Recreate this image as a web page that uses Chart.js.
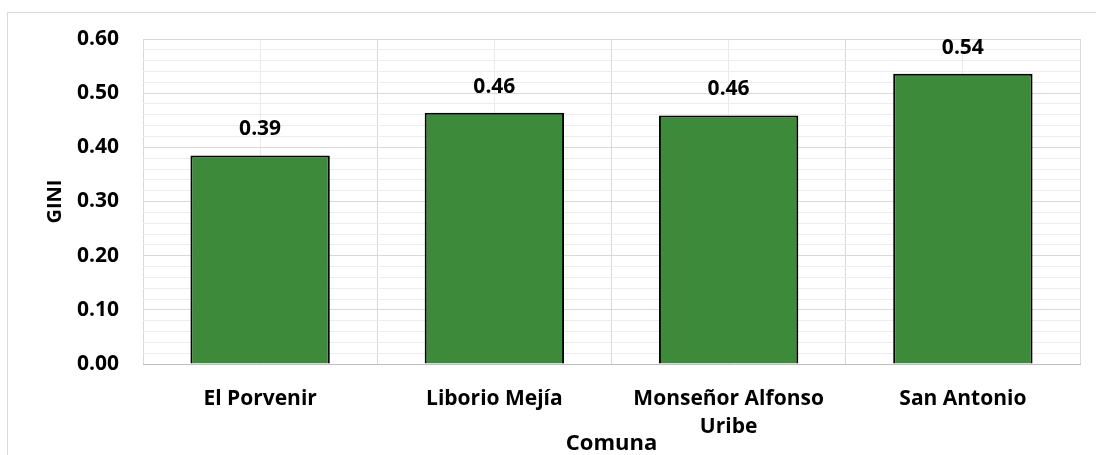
<!DOCTYPE html>
<html>
<head>
<meta charset="utf-8">
<script src="https://cdn.jsdelivr.net/npm/chart.js@4/dist/chart.umd.min.js"></script>
<style>
  html, body { margin: 0; padding: 0; background: #fff; }
  #wrap { width: 1096px; height: 455px; }
</style>
</head>
<body>
<div id="wrap"><canvas id="myChart" width="1096" height="455"></canvas></div>
<script>
const comunas = ['El Porvenir', 'Liborio Mejía', 'Monseñor Alfonso Uribe', 'San Antonio'];
const tickLabels = ['El Porvenir', 'Liborio Mejía', ['Monseñor Alfonso', 'Uribe'], 'San Antonio'];
const gini = [0.385, 0.464, 0.459, 0.536];

const FONT = "'Open Sans', 'DejaVu Sans', sans-serif";

// outer frame of the chart object
const framePlugin = {
    id: 'frame',
    beforeDraw(chart) {
        const { ctx } = chart;
        ctx.save();
        ctx.strokeStyle = '#d9d9d9';
        ctx.lineWidth = 1;
        ctx.beginPath();
        ctx.moveTo(7.5, 460);
        ctx.lineTo(7.5, 12.5);
        ctx.lineTo(1100, 12.5);
        ctx.stroke();
        ctx.restore();
    }
};

// value labels above bars
const valueLabels = {
    id: 'valueLabels',
    afterDatasetsDraw(chart) {
        const { ctx } = chart;
        const meta = chart.getDatasetMeta(0);
        ctx.save();
        ctx.font = 'bold 21px ' + FONT;
        ctx.fillStyle = '#000';
        ctx.textAlign = 'center';
        ctx.textBaseline = 'middle';
        meta.data.forEach((bar, i) => {
            ctx.fillText(gini[i].toFixed(2), bar.x, bar.y - 26);
        });
        ctx.restore();
    }
};

const isMajor = v => Math.round(v * 100) % 10 === 0;

new Chart(document.getElementById('myChart'), {
    type: 'bar',
    data: {
        labels: comunas,
        datasets: [{
            label: 'GINI',
            data: gini,
            backgroundColor: '#3d8a3a',
            borderColor: '#000',
            borderWidth: { top: 2, left: 2, right: 2, bottom: 0 },
            borderSkipped: 'bottom',
            categoryPercentage: 1,
            barPercentage: 0.595
        }]
    },
    options: {
        responsive: false,
        animation: false,
        layout: { padding: { left: 8, top: 39, right: 16, bottom: 0 } },
        plugins: {
            legend: { display: false },
            tooltip: { enabled: false }
        },
        scales: {
            x: {
                offset: true,
                grid: { offset: true, color: '#d9d9d9', drawTicks: false },
                border: { color: '#bfbfbf', width: 1 },
                ticks: {
                    padding: 21,
                    color: '#000',
                    font: { family: FONT, size: 21, weight: 'bold', lineHeight: 1.33 },
                    maxRotation: 0,
                    autoSkip: false,
                    callback: (v, i) => tickLabels[i]
                },
                title: {
                    display: true,
                    text: 'Comuna',
                    color: '#000',
                    font: { family: FONT, size: 22, weight: 'bold', lineHeight: 1 },
                    padding: { top: 0, bottom: 0 }
                },
                afterFit(scale) { scale.height = 91; }
            },
            x2: {
                type: 'category',
                labels: comunas,
                position: 'bottom',
                offset: true,
                grid: { offset: false, color: '#ebebeb', drawTicks: false },
                border: { display: false },
                ticks: { display: false },
                afterFit(scale) { scale.height = 0; }
            },
            y: {
                min: 0,
                max: 0.6,
                grid: {
                    drawTicks: false,
                    color: c => isMajor(c.tick.value) ? '#d9d9d9' : '#ededed'
                },
                border: { display: false },
                ticks: {
                    stepSize: 0.02,
                    padding: 24,
                    color: '#000',
                    autoSkip: false,
                    font: { family: FONT, size: 21, weight: 'bold' },
                    callback: v => isMajor(v) ? v.toFixed(2) : ''
                },
                title: {
                    display: true,
                    text: 'GINI',
                    color: '#000',
                    font: { family: FONT, size: 20, weight: 'bold', lineHeight: 1 },
                    padding: { top: 37, bottom: 0 }
                },
                afterFit(scale) { scale.width = 135; }
            }
        }
    },
    plugins: [framePlugin, valueLabels]
});
</script>
</body>
</html>
